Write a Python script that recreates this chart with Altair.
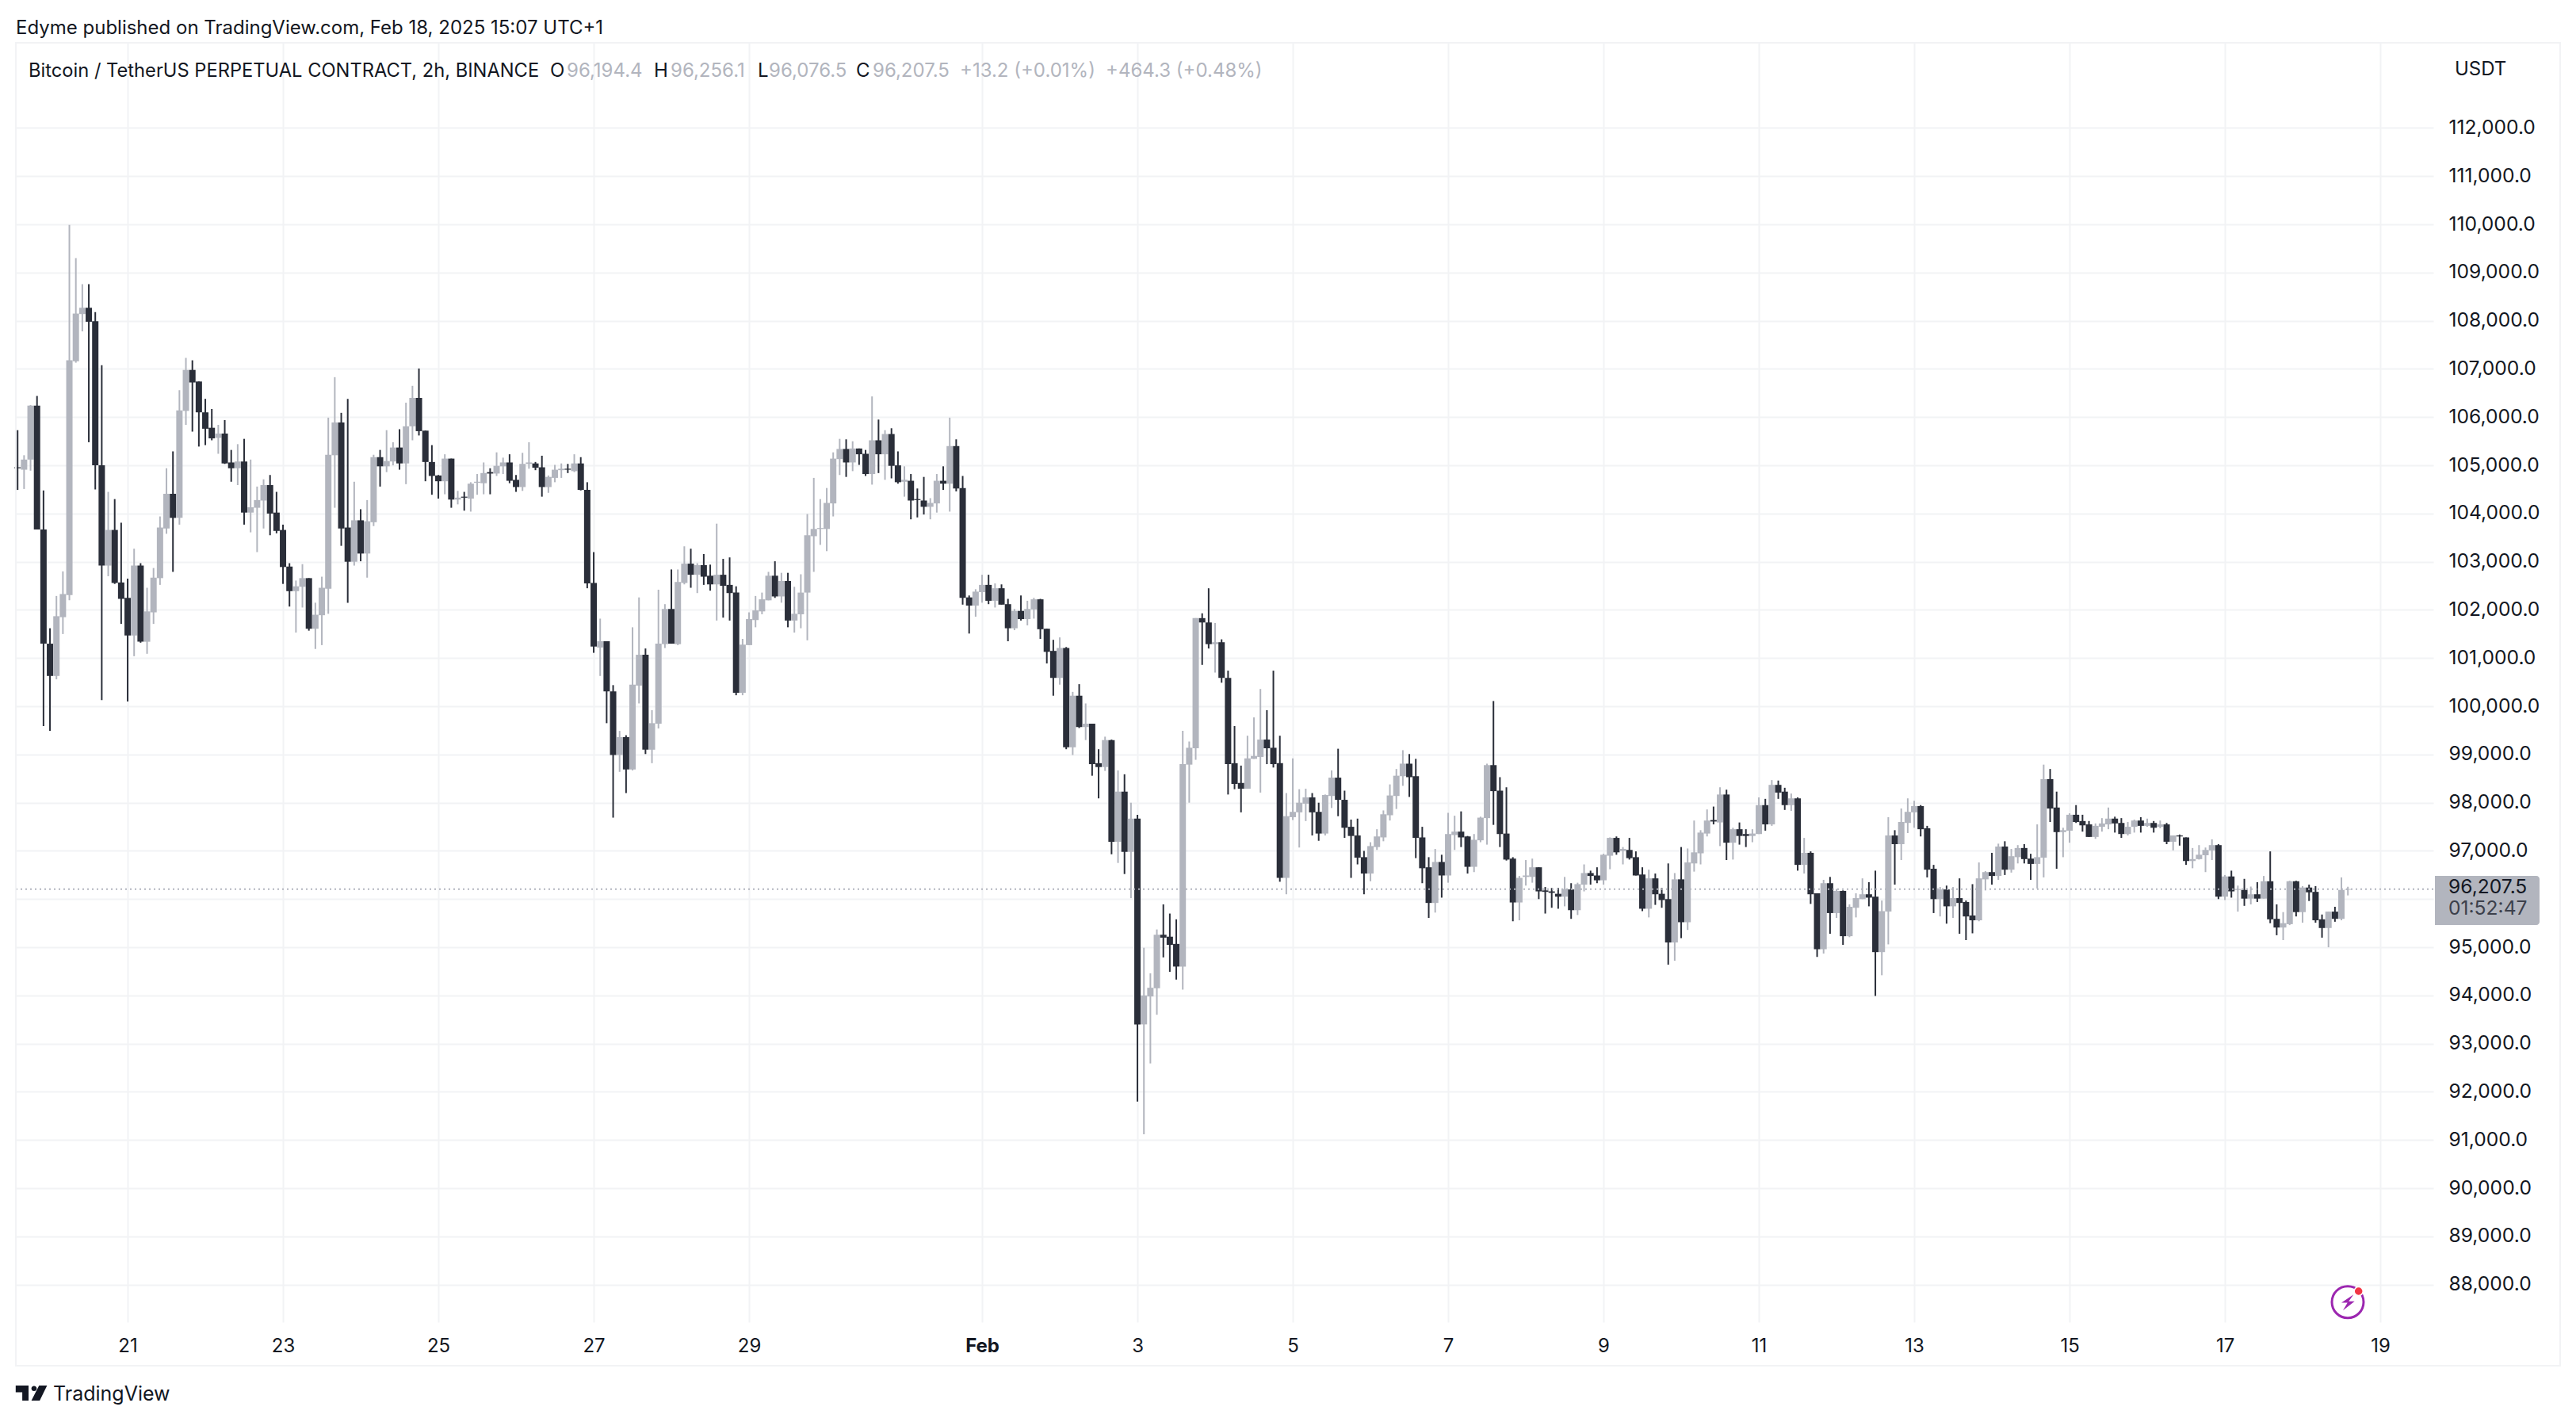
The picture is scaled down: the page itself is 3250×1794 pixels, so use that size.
import altair as alt
import pandas as pd

# Prices in thousands of USDT, one entry per 2h bar
opens = [
104.96,104.91,105.12,106.24,103.67,101.30,100.63,101.85,102.31,107.16,
108.14,108.27,107.99,105.00,102.92,103.66,102.57,102.25,101.47,102.92,
101.34,101.95,102.66,103.69,104.41,103.91,106.13,106.98,106.74,106.10,
105.78,105.57,105.66,105.06,104.94,105.08,104.02,104.12,104.27,104.59,
104.02,103.66,102.90,102.39,102.48,102.66,101.61,101.89,102.44,105.21,
105.89,103.71,103.00,103.86,103.17,103.82,105.17,104.98,105.08,105.37,
105.04,105.81,106.40,105.72,105.07,104.79,104.67,105.14,104.29,104.35,
104.31,104.64,104.63,104.86,104.83,104.98,105.06,104.70,104.55,105.03,
105.04,104.96,104.55,104.74,104.90,104.93,104.88,105.04,104.49,102.56,
101.22,101.35,100.31,98.99,99.36,98.69,100.43,101.07,99.10,99.64,
101.29,102.02,101.29,102.56,102.96,102.73,102.93,102.71,102.53,102.73,
102.52,102.36,100.28,101.27,101.79,101.97,102.20,102.71,102.28,102.60,
101.78,101.91,102.36,103.53,103.68,103.68,104.21,105.13,105.34,105.06,
105.35,105.24,104.82,105.52,105.23,105.65,105.00,104.66,104.68,104.30,
104.27,104.14,104.21,104.68,104.62,105.40,104.53,102.26,102.09,102.37,
102.52,102.19,102.45,102.12,101.62,101.98,101.81,102.01,102.22,101.61,
101.15,100.59,101.21,99.15,100.22,99.57,99.64,98.82,98.74,99.30,
97.19,98.23,96.98,97.67,93.40,93.98,94.15,95.26,95.22,95.07,
94.60,98.79,99.13,101.83,101.74,101.29,101.33,100.59,98.82,98.41,
98.29,98.91,98.95,99.31,99.14,98.82,96.44,97.70,97.80,97.98,
98.11,97.81,97.36,98.14,98.52,98.06,97.50,97.32,96.87,96.53,
97.08,97.28,97.74,98.14,98.55,98.81,98.55,97.28,96.66,95.92,
96.77,96.49,97.33,97.40,97.30,96.67,97.22,97.68,98.78,98.25,
97.36,96.84,95.93,96.46,96.46,96.66,96.18,96.16,96.11,96.05,
96.20,95.77,96.30,96.54,96.49,96.39,96.90,97.27,97.00,97.02,
96.87,96.51,95.80,96.43,96.11,96.00,95.10,96.41,95.52,96.74,
96.95,97.36,97.64,97.59,98.17,97.17,97.45,97.35,97.31,97.35,
97.95,97.55,98.37,98.23,97.95,98.09,96.71,96.96,96.12,94.96,
96.33,95.71,96.17,95.23,95.82,96.00,96.10,96.05,94.90,95.74,
97.32,97.14,97.58,97.80,97.93,97.47,96.63,96.00,96.20,95.85,
96.02,95.94,95.66,95.56,96.41,96.56,96.48,97.09,96.61,96.87,
97.06,96.84,96.73,96.86,98.49,97.90,97.39,97.42,97.75,97.62,
97.55,97.29,97.50,97.55,97.67,97.58,97.35,97.50,97.63,97.52,
97.58,97.50,97.55,97.19,97.32,97.28,96.79,96.83,96.91,97.01,
97.12,96.05,96.47,96.19,96.19,96.01,96.10,96.01,96.37,95.59,
95.41,95.48,96.37,95.73,96.24,96.15,95.58,95.40,95.74,95.59,
96.1944]
highs = [
105.73,105.21,106.25,106.44,104.48,101.62,102.29,102.80,109.99,109.30,
108.76,108.76,108.18,107.08,104.45,104.30,103.81,102.65,103.27,102.97,
102.46,102.87,103.94,104.94,105.29,106.56,107.23,107.18,106.74,106.38,
106.17,105.84,105.94,105.32,105.44,105.55,105.12,104.56,104.71,104.80,
104.45,103.77,102.97,102.61,102.95,102.66,102.15,102.69,105.99,106.83,
106.09,106.38,104.66,104.09,104.28,105.22,105.32,105.73,105.48,105.75,
106.30,106.65,107.01,105.72,105.42,104.80,105.23,105.14,104.47,104.45,
104.65,104.82,105.06,104.94,105.27,105.16,105.23,104.80,105.26,105.48,
105.07,105.20,104.79,105.01,105.04,105.03,105.23,105.17,104.65,103.20,
101.82,101.35,100.44,99.49,99.40,101.64,102.26,101.20,99.92,102.42,
102.12,102.84,102.84,103.32,103.27,102.97,103.16,102.94,103.79,103.06,
103.09,102.49,101.40,101.95,102.29,102.36,102.79,103.01,102.77,102.77,
102.48,102.74,103.99,104.74,104.30,104.53,105.27,105.55,105.54,105.50,
105.35,105.32,106.43,105.95,105.73,105.77,105.29,104.98,104.82,104.52,
104.76,104.32,104.82,104.98,105.99,105.54,104.78,102.30,102.43,102.73,
102.73,102.55,102.53,102.23,102.02,102.30,102.19,102.25,102.23,101.61,
101.38,101.43,101.23,100.30,100.46,100.06,99.64,99.11,99.37,99.31,
98.67,98.59,98.00,97.75,94.99,94.46,95.37,95.89,95.70,95.58,
99.49,99.27,101.83,101.93,102.45,101.73,101.39,100.74,99.59,98.77,
99.39,99.77,100.36,99.92,100.74,99.39,98.20,98.92,98.28,98.29,
98.20,98.00,98.17,98.67,99.12,98.25,97.65,97.67,97.00,97.18,
97.45,97.84,98.38,98.70,99.09,99.01,98.91,97.50,96.87,97.04,
96.92,97.79,97.73,97.82,97.31,97.35,97.71,98.81,100.11,98.53,
98.32,96.87,96.48,96.81,96.84,96.66,96.25,96.23,96.23,96.46,
96.33,96.34,96.72,96.59,96.66,96.94,97.28,97.30,97.08,97.27,
96.99,96.66,96.61,96.53,96.23,96.74,96.54,97.08,97.05,97.63,
97.43,97.86,97.92,98.32,98.27,97.48,97.59,97.45,97.45,98.11,
98.08,98.47,98.46,98.31,98.19,98.11,97.27,96.99,96.12,96.40,
96.46,96.21,96.18,95.89,96.12,96.43,96.35,96.59,95.97,97.70,
97.43,97.88,98.09,98.04,97.95,97.52,96.71,96.25,96.28,96.25,
96.43,95.97,96.31,96.76,96.58,96.96,97.15,97.20,97.04,97.12,
97.14,96.94,97.55,98.79,98.70,98.23,97.48,97.78,97.95,97.75,
97.62,97.57,97.68,97.90,97.71,97.68,97.60,97.65,97.70,97.67,
97.62,97.63,97.58,97.32,97.34,97.28,97.06,97.12,97.07,97.24,
97.14,96.50,96.59,96.28,96.42,96.26,96.35,96.48,96.99,95.89,
95.73,96.38,96.38,96.27,96.30,96.27,95.68,95.74,95.84,96.45,
96.2561]
lows = [
104.49,104.51,104.89,103.67,99.59,99.49,100.56,101.50,102.20,107.13,
107.78,105.48,104.50,100.13,102.70,102.54,101.71,100.10,101.04,101.32,
101.09,101.71,102.52,103.58,102.79,103.77,105.84,105.70,105.39,105.42,
105.52,105.24,105.03,104.66,104.59,103.77,103.61,103.20,103.69,103.55,
103.59,102.54,102.07,101.53,102.05,101.57,101.19,101.27,101.92,104.12,
103.33,102.15,102.92,103.01,102.67,103.74,104.56,104.86,105.00,104.91,
104.61,105.52,105.62,104.67,104.39,104.31,104.40,104.12,104.19,104.06,
104.04,104.39,104.40,104.40,104.78,104.82,104.63,104.45,104.47,104.93,
104.90,104.35,104.43,104.65,104.74,104.84,104.86,104.48,102.45,101.11,
100.63,99.65,97.69,98.64,98.20,98.67,100.06,99.01,98.82,99.54,
101.21,101.30,101.27,102.53,102.46,102.35,102.52,102.40,101.78,101.84,
101.78,100.23,100.23,101.27,101.64,101.91,102.20,102.25,102.15,101.64,
101.53,101.62,101.37,102.79,103.35,103.22,103.94,104.80,104.76,104.88,
105.01,104.78,104.60,104.84,104.70,104.73,104.62,104.35,103.88,103.92,
103.98,103.88,104.02,104.49,104.04,104.46,102.11,101.51,101.86,102.15,
102.12,102.05,102.11,101.35,101.58,101.78,101.68,101.82,101.40,100.89,
100.22,100.45,99.11,98.99,99.55,99.30,98.56,98.09,98.66,96.93,
96.75,96.52,96.02,91.80,91.12,92.59,93.60,94.79,94.49,94.33,
94.12,98.00,98.89,100.86,101.20,100.70,100.49,98.17,98.28,97.80,
98.29,98.91,98.21,98.80,98.73,96.36,96.10,97.64,97.07,97.62,
97.32,97.21,97.32,97.89,97.72,97.27,96.44,96.72,96.10,96.37,
97.02,97.20,97.63,97.87,98.35,98.12,96.85,96.33,95.61,95.72,
96.03,96.34,97.02,97.08,96.53,96.56,97.18,97.13,97.54,97.08,
96.80,95.54,95.56,96.28,96.34,96.00,95.70,95.82,95.80,95.85,
95.59,95.67,96.16,96.30,96.33,96.30,96.62,96.92,96.72,96.82,
96.49,95.75,95.62,95.88,95.82,94.64,94.72,95.19,95.36,96.57,
96.72,97.30,97.55,97.10,96.81,96.82,97.13,97.08,97.18,97.35,
97.42,97.52,98.08,97.85,97.83,96.59,96.53,95.90,94.80,94.87,
95.28,95.61,95.05,95.21,95.62,96.00,95.85,93.99,94.42,95.06,
96.30,96.81,97.37,97.48,97.30,96.45,95.71,95.64,95.49,95.61,
95.28,95.15,95.29,95.54,96.18,96.30,96.40,96.50,96.55,96.74,
96.74,96.40,96.22,96.45,97.60,96.63,96.87,97.17,97.58,97.40,
97.29,97.25,97.40,97.45,97.38,97.27,97.32,97.38,97.38,97.50,
97.38,97.47,97.14,97.01,97.11,96.71,96.64,96.82,96.56,96.81,
96.00,95.98,96.03,95.74,95.86,95.89,95.94,96.01,95.50,95.25,
95.15,95.46,95.64,95.51,95.96,95.51,95.20,95.00,95.53,95.56,
96.0765]
closes = [
104.94,105.12,106.24,103.67,101.30,100.63,101.87,102.33,107.18,108.15,
108.27,107.98,105.00,102.92,103.66,102.56,102.23,101.47,102.92,101.34,
101.97,102.67,103.71,104.41,103.91,106.14,106.98,106.72,106.10,105.76,
105.56,105.66,105.04,104.94,105.08,104.02,104.13,104.28,104.59,104.00,
103.64,102.89,102.39,102.49,102.66,101.61,101.90,102.46,105.22,105.89,
103.69,103.00,103.86,103.17,103.84,105.17,104.98,105.09,105.37,105.04,
105.81,106.40,105.71,105.07,104.78,104.67,105.14,104.29,104.33,104.33,
104.62,104.66,104.84,104.83,104.99,105.06,104.68,104.55,105.03,105.06,
104.95,104.55,104.76,104.91,104.93,104.91,105.04,104.49,102.55,101.24,
101.35,100.31,98.99,99.36,98.69,100.45,101.07,99.10,99.65,101.30,
102.02,101.30,102.58,102.96,102.73,102.93,102.69,102.53,102.73,102.50,
102.35,100.28,101.28,101.81,101.99,102.22,102.71,102.28,102.60,101.78,
101.92,102.36,103.55,103.68,103.70,104.22,105.14,105.34,105.06,105.35,
105.23,104.82,105.52,105.23,105.65,104.99,104.65,104.70,104.27,104.28,
104.14,104.22,104.68,104.62,105.40,104.52,102.25,102.09,102.38,102.52,
102.19,102.45,102.11,101.62,101.98,101.81,102.02,102.22,101.60,101.13,
100.59,101.21,99.15,100.22,99.57,99.64,98.80,98.74,99.30,97.19,
98.23,96.98,97.67,93.40,94.00,94.16,95.26,95.20,95.05,94.60,
98.80,99.14,101.83,101.74,101.29,101.33,100.59,98.80,98.39,98.29,
98.92,98.97,99.31,99.13,98.80,96.44,97.72,97.81,98.00,98.11,
97.80,97.36,98.16,98.52,98.06,97.48,97.31,96.86,96.53,97.10,
97.30,97.76,98.15,98.56,98.81,98.53,97.27,96.64,95.92,96.77,
96.49,97.35,97.40,97.28,96.67,97.23,97.69,98.78,98.24,97.35,
96.82,95.93,96.44,96.49,96.66,96.16,96.15,96.13,96.05,96.21,
95.77,96.31,96.54,96.48,96.39,96.92,97.27,96.97,97.04,96.85,
96.49,95.80,96.43,96.10,95.98,95.10,96.41,95.52,96.76,96.97,
97.38,97.63,97.61,98.17,97.17,97.45,97.31,97.31,97.36,97.95,
97.55,98.37,98.21,97.95,98.09,96.71,96.96,96.10,94.96,96.33,
95.71,96.17,95.23,95.84,96.02,96.10,96.03,94.90,95.75,97.32,
97.14,97.60,97.81,97.93,97.45,96.61,96.00,96.20,95.85,96.02,
95.92,95.64,95.56,96.43,96.56,96.48,97.09,96.61,96.89,97.06,
96.83,96.73,96.87,98.49,97.88,97.39,97.43,97.75,97.60,97.53,
97.29,97.52,97.57,97.67,97.57,97.35,97.50,97.63,97.52,97.58,
97.48,97.55,97.19,97.32,97.30,96.79,96.83,96.92,97.02,97.12,
96.05,96.47,96.16,96.21,96.01,96.10,96.01,96.37,95.58,95.41,
95.50,96.37,95.73,96.24,96.14,95.56,95.40,95.74,95.59,96.19,
96.2075]

tick_bars = [17, 41, 65, 89, 113, 149, 173, 197, 221, 245, 269, 293, 317, 341, 365]
tick_labels = ["21", "23", "25", "27", "29", "Feb", "3", "5", "7", "9", "11", "13", "15", "17", "19"]
price_ticks = list(range(88000, 113000, 1000))
last_price = 96207.5

DARK = "#2a2e39"
LIGHT = "#b2b5be"
INK = "#131722"
GRID = "#f2f3f5"
FONT = "Inter"

df = pd.DataFrame({
    "i": list(range(len(opens))),
    "open": [v * 1000 for v in opens],
    "high": [v * 1000 for v in highs],
    "low": [v * 1000 for v in lows],
    "close": [v * 1000 for v in closes],
})
df["dir"] = ["up" if c >= o else "down" for o, c in zip(df["open"], df["close"])]

PX = 8.1667
xs = alt.Scale(domain=[-0.27, 3050 / PX - 0.27], nice=False, zero=False, padding=0)
ys = alt.Scale(domain=[87222, 113768], nice=False, zero=False)
cs = alt.Scale(domain=["up", "down"], range=[LIGHT, DARK])

label_map = ",".join(f"'{p}':'{t}'" for p, t in zip(tick_bars, tick_labels))
x_axis = alt.Axis(
    values=tick_bars, labelExpr="{" + label_map + "}[''+datum.value]", title=None,
    grid=True, gridColor=GRID, gridWidth=2, domain=False, ticks=False,
    labelFont=FONT, labelFontSize=24, labelColor=INK, labelPadding=30, labelBaseline="middle",
    labelFontWeight=alt.expr("datum.value==149?'bold':'normal'"), labelOverlap=False, labelFlush=False,
)
# The 96,000.0 label sits behind the last-price badge in the reference
y_axis = alt.Axis(
    values=price_ticks, labelExpr="datum.value==96000?'':format(datum.value,',.1f')", orient="right", title=None,
    grid=True, gridColor=GRID, gridWidth=2, domain=False, ticks=False,
    labelFont=FONT, labelFontSize=24.6, labelColor=INK, labelPadding=19, labelOverlap=False, labelFlush=False,
)

wicks = alt.Chart(df).mark_rule(strokeWidth=2).encode(
    x=alt.X("i:Q", scale=xs, axis=x_axis),
    y=alt.Y("high:Q", scale=ys, axis=y_axis),
    y2="low:Q",
    color=alt.Color("dir:N", scale=cs, legend=None),
)
bodies = alt.Chart(df).mark_bar(size=8).encode(
    x=alt.X("i:Q", scale=xs),
    y=alt.Y("open:Q", scale=ys),
    y2="close:Q",
    color=alt.Color("dir:N", scale=cs, legend=None),
)
last_line = alt.Chart(pd.DataFrame({"p": [last_price]})).mark_rule(
    color=LIGHT, strokeWidth=2, strokeDash=[2, 4]
).encode(y=alt.Y("p:Q", scale=ys))

one = pd.DataFrame({"a": [0]})


def label(text, x, y, color=INK, size=24, weight="normal"):
    return alt.Chart(one).mark_text(
        align="left", baseline="middle", font=FONT, fontSize=size, color=color, fontWeight=weight
    ).encode(x=alt.value(x - 20), y=alt.value(y - 54), text=alt.value(text))


def glyph(path, x, y, size, fill):
    return alt.Chart(one).mark_point(
        shape=path, size=size, filled=True, fill=fill, stroke=None, opacity=1
    ).encode(x=alt.value(x - 20), y=alt.value(y - 54))


frame = alt.Chart(one).mark_rect(fill=None, stroke=GRID, strokeWidth=2).encode(
    x=alt.value(0), x2=alt.value(3210), y=alt.value(0), y2=alt.value(1669)
)
badge = alt.Chart(one).mark_rect(
    fill=LIGHT, cornerRadiusTopRight=4, cornerRadiusBottomRight=4
).encode(x=alt.value(3072 - 20), x2=alt.value(3204 - 20), y=alt.value(1105 - 54), y2=alt.value(1167 - 54))

ring = alt.Chart(one).mark_point(
    shape="circle", size=1600, filled=False, stroke="#9c27b0", strokeWidth=3, opacity=1
).encode(x=alt.value(2962 - 20), y=alt.value(1642.7 - 54))
bolt = glyph("M.52 -.67L-.57 .05H-.02L-.43 .76L.62 -.07H.09Z", 2962, 1642.7, 784, "#9c27b0")
dot = alt.Chart(one).mark_point(
    shape="circle", size=121, filled=True, fill="#f23645", stroke="white", strokeWidth=1.5, opacity=1
).encode(x=alt.value(2975.7 - 20), y=alt.value(1629 - 54))
tv_logo = glyph(
    "M-1 -.48H-.18V.48H-.58V-.05H-1ZM0 -.29A.17 .17 0 1 0 .34 -.29A.17 .17 0 1 0 0 -.29ZM.49 -.48H1L.53 .48H0Z",
    39.6, 1757.5, 1568, INK,
)

texts = [
    label("Edyme published on TradingView.com, Feb 18, 2025 15:07 UTC+1", 20, 36),
    label("Bitcoin / TetherUS PERPETUAL CONTRACT, 2h, BINANCE", 36, 90, INK, 23.7),
    label("O", 694, 90), label("96,194.4", 715, 90, LIGHT),
    label("H", 825, 90), label("96,256.1", 846, 90, LIGHT),
    label("L", 956, 90), label("96,076.5", 970, 90, LIGHT),
    label("C", 1080, 90), label("96,207.5", 1101, 90, LIGHT),
    label("+13.2 (+0.01%)", 1211, 90, LIGHT),
    label("+464.3 (+0.48%)", 1395, 90, LIGHT),
    label("USDT", 3097, 88),
    label("96,207.5", 3089, 1120, INK, 24.6),
    label("01:52:47", 3089, 1147, "#3c404b", 24.6),
    label("TradingView", 67, 1759, INK, 25),
]

chart = alt.layer(
    wicks, bodies, last_line, frame, badge, ring, bolt, dot, tv_logo, *texts
).properties(
    width=3050, height=1614,
    autosize=alt.AutoSizeParams(type="none"),
    padding={"left": 12, "top": 46, "right": 172, "bottom": 112},
    background="white",
).configure_view(stroke=None)

chart.save("out.html", embed_options={"renderer": "svg", "actions": False})
